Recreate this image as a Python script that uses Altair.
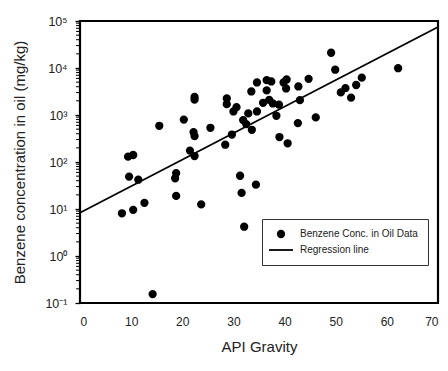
import altair as alt
import pandas as pd

api_gravity = [8.2, 10.4, 12.6, 9.6, 11.4, 9.4, 10.4, 14.2, 15.5, 18.8, 18.6, 18.8, 20.3, 21.5, 22.4, 22.2,
               22.4, 22.4, 22.4, 23.7, 25.5, 28.4, 28.7, 28.7, 29.7, 30.0, 30.6, 31.3, 31.6, 32.1, 31.9, 32.5,
               33.6, 32.9, 34.6, 33.5, 34.6, 34.4, 36.5, 37.4, 36.5, 35.8, 37.0, 37.7, 38.9, 38.4, 39.0, 40.6,
               39.8, 40.4, 40.3, 42.7, 43.0, 42.6, 44.7, 46.1, 49.1, 49.9, 51.0, 51.9, 53.0, 54.0, 55.1, 62.2]
benzene = [8.1, 9.6, 13.5, 49, 42, 130, 141, 0.155, 590, 58, 45, 19, 800, 175, 134, 433,
           356, 2430, 2120, 12.5, 535, 233, 2250, 1700, 384, 1190, 1470, 51, 22, 4.2, 780, 641,
           485, 1080, 1190, 3170, 4920, 33, 5510, 5170, 3330, 1820, 2100, 1760, 1660, 962, 340, 250,
           4920, 5700, 3670, 4050, 2070, 673, 5870, 889, 21100, 9200, 3020, 3720, 2340, 4350, 6220, 9900]

reg_x = [0, 70]
reg_y = [8.3, 74600]

series_names = ["Benzene Conc. in Oil Data", "Regression line"]
y_tick_values = [0.1, 1, 10, 100, 1000, 10000, 100000]
y_tick_labels = ["10⁻¹", "10⁰", "10¹", "10²", "10³", "10⁴", "10⁵"]
y_minor_ticks = [m * d for d in [0.1, 1, 10, 100, 1000, 10000] for m in [2, 3, 4, 5, 6, 7, 8, 9]]
x_tick_values = [0, 10, 20, 30, 40, 50, 60, 70]

pts = pd.DataFrame({"api": api_gravity, "benz": benzene, "series": series_names[0]})
reg = pd.DataFrame({"api": reg_x, "benz": reg_y})
minor = pd.DataFrame({"benz": y_minor_ticks})

label_expr = " : ".join(
    f"abs(log(datum.value)/log(10) - ({i})) < 0.01 ? '{lab}'"
    for i, lab in zip([-1, 0, 1, 2, 3, 4, 5], y_tick_labels)
) + " : ''"

FONT = "Liberation Sans"

xscale = alt.Scale(domain=[0, 70], nice=False, zero=False)
yscale = alt.Scale(type="log", domain=[0.1, 100000], nice=False)

xaxis = alt.Axis(values=x_tick_values, title="API Gravity", grid=False, domain=False,
                 ticks=False, labelPadding=13, labelFontSize=12,
                 labelFont=FONT, labelColor="#222", titleFont=FONT, titleFontSize=15,
                 titleFontWeight="normal", titleColor="#222", titlePadding=12)
yaxis = alt.Axis(values=y_tick_values, labelExpr=label_expr, title="Benzene concentration in oil (mg/kg)",
                 grid=False, domain=False, tickSize=5, tickColor="black", tickWidth=1.3,
                 labelPadding=8, labelFontSize=12.5, labelFont=FONT, labelColor="#222",
                 titleFont=FONT, titleFontSize=15, titleFontWeight="normal", titleColor="#222",
                 titlePadding=17)

legend = alt.Legend(orient="none", legendX=182, legendY=198, title=None,
                    strokeColor="#333", fillColor="white", padding=10,
                    symbolOffset=4, labelOffset=14, rowPadding=4,
                    labelFont=FONT, labelFontSize=10, labelColor="#222",
                    symbolSize=42, symbolStrokeWidth=1.8, cornerRadius=0)

points = alt.Chart(pts).mark_point(filled=False, size=42, fill="black", fillOpacity=1,
                                   strokeWidth=1.8, opacity=1).encode(
    x=alt.X("api:Q", scale=xscale, axis=xaxis),
    y=alt.Y("benz:Q", scale=yscale, axis=yaxis),
    shape=alt.Shape("series:N",
                    scale=alt.Scale(domain=series_names, range=["circle", "M-3.7,0L3.7,0"]),
                    legend=legend),
    color=alt.Color("series:N",
                    scale=alt.Scale(domain=series_names, range=["black", "black"]),
                    legend=legend),
)

line = alt.Chart(reg).mark_line(color="black", strokeWidth=1.8).encode(
    x=alt.X("api:Q", scale=xscale),
    y=alt.Y("benz:Q", scale=yscale),
)

minor_ticks = alt.Chart(minor).mark_rule(color="black", strokeWidth=1, clip=False).encode(
    x=alt.value(-4), x2=alt.value(-1),
    y=alt.Y("benz:Q", scale=yscale),
)

chart = alt.layer(line, minor_ticks, points).properties(
    width=358, height=282,
    autosize=alt.AutoSizeParams(type="none"),
    padding={"left": 72, "top": 13, "right": 2, "bottom": 60},
    background="white",
).configure_view(stroke="black", strokeWidth=2.2)

chart.save("out.html", embed_options={"renderer": "svg", "actions": False})
